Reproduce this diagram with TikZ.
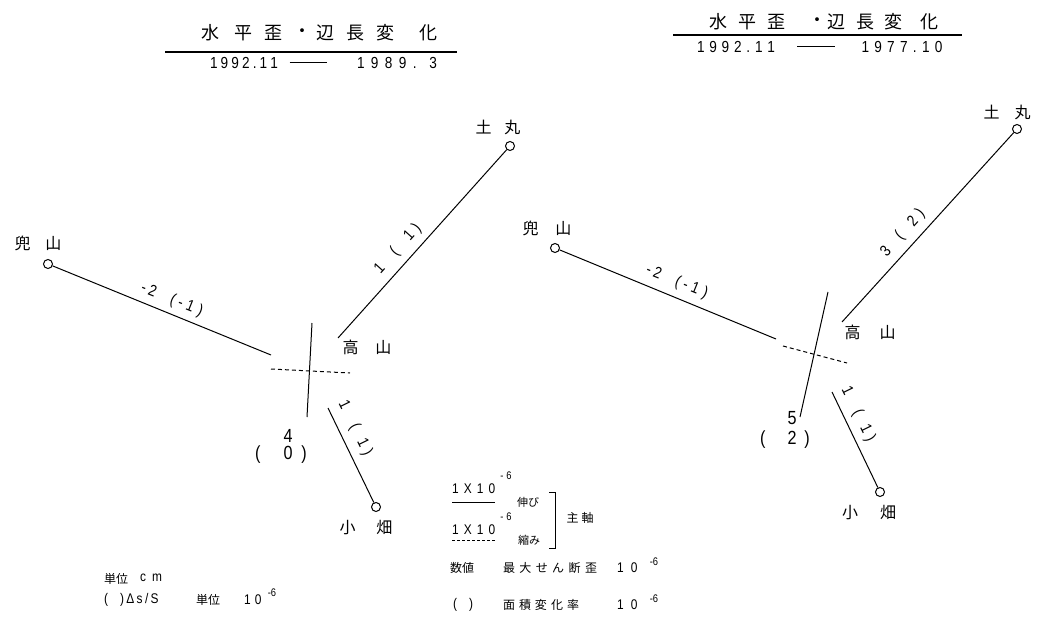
\documentclass[tikz,border=0pt]{standalone}
\usepackage{fontspec}
\setmainfont{Liberation Sans}
\newfontfamily\jp{Noto Sans CJK JP}
\newfontfamily\nm[FakeStretch=0.85]{Liberation Sans}
\newcommand{\spreadbox}[2]{\makebox[#1][s]{#2}}
\begin{document}
\begin{tikzpicture}[x=1pt,y=-1pt,
  ttl/.style={font=\jp\fontsize{18}{18}\selectfont, inner sep=0pt},
  stname/.style={font=\jp\fontsize{16}{16}\selectfont, inner sep=0pt},
  datef/.style={font=\nm\fontsize{16}{16}\selectfont, inner sep=0pt},
  lbl/.style={font=\nm\fontsize{16}{16}\selectfont, inner sep=0pt},
  big/.style={font=\nm\fontsize{19}{19}\selectfont, inner sep=0pt},
  leg/.style={font=\jp\fontsize{12}{12}\selectfont, inner sep=0pt},
  legn/.style={font=\nm\fontsize{14}{14}\selectfont, inner sep=0pt},
  sup/.style={font=\nm\fontsize{11}{11}\selectfont, inner sep=0pt},
  stn/.style={circle, draw, line width=1pt, minimum size=9pt, inner sep=0pt, fill=white},
  ln/.style={line width=1pt},
  rulel/.style={line width=1.2pt},
  dsh/.style={line width=1pt, dash pattern=on 4pt off 3pt}]
\path[use as bounding box, fill=white] (0,0) rectangle (1041,628);

% ---------- titles ----------
\foreach \x/\c [count=\i] in {210/水,243/平,273/歪,302/・,325/辺,355/長,385/変,428/化}
  \node[ttl] (tl\i) at (\x,33) {\c};
\foreach \x/\c [count=\i] in {718/水,747/平,776/歪,817/・,836/辺,865/長,893/変,929/化}
  \node[ttl] (tr\i) at (\x,22) {\c};
\coordinate (tlA) at (165,52); \coordinate (tlB) at (457,52);
\coordinate (trA) at (673,35); \coordinate (trB) at (962,35);
\draw[rulel] (tlA) -- (tlB);
\draw[rulel] (trA) -- (trB);
\node[datef] (dl1) at (244,63) {\spreadbox{68pt}{1\hfill9\hfill9\hfill2\hfill.\hfill1\hfill1}};
\node[inner sep=0pt] (dl2) at (308,62) {\rule{37pt}{0.9pt}};
\node[datef] (dl3) at (397,63) {\spreadbox{80pt}{1\hfill9\hfill8\hfill9\hfill.\hfill\hfill3}};
\node[datef] (dr1) at (736,47) {\spreadbox{78pt}{1\hfill9\hfill9\hfill2\hfill.\hfill1\hfill1}};
\node[inner sep=0pt] (dr2) at (816,46) {\rule{38pt}{0.9pt}};
\node[datef] (dr3) at (902,47) {\spreadbox{81pt}{1\hfill9\hfill7\hfill7\hfill.\hfill1\hfill0}};

% ---------- left network ----------
\node[stn] (kabL) at (48,264) {};
\node[stname] (kabLt) at (38,243) {兜\hspace{15pt}山};
\node[stn] (tsuL) at (510,146) {};
\node[stname] (tsuLt) at (498,127) {土\hspace{13pt}丸};
\node[stname] (takLt) at (367,347) {高\hspace{17pt}山};
\node[stn] (obaL) at (376,507) {};
\node[stname] (obaLt) at (366,528) {小\hspace{21pt}畑};
\coordinate (kL) at (271,355);
\coordinate (tL) at (338,338);
\coordinate (oL) at (328,408);
\draw[ln] (kabL) -- (kL);
\draw[ln] (tsuL) -- (tL);
\draw[ln] (obaL) -- (oL);
\coordinate (axLa) at (312,323); \coordinate (axLb) at (307,417);
\coordinate (dsLa) at (271,369); \coordinate (dsLb) at (350,373);
\draw[ln] (axLa) -- (axLb);
\draw[dsh] (dsLa) -- (dsLb);
\node[lbl, rotate=-22] (lkL) at (172,300) {-\hspace{3pt}2\hspace{16pt}(\hspace{4pt}-\hspace{4pt}1\hspace{5pt})};
\node[lbl, rotate=48] (ltL) at (398,249) {1\hspace{16pt}(\hspace{16pt}1\hspace{5pt})};
\node[lbl, rotate=-64] (loL) at (355,428) {1\hspace{18pt}(\hspace{12pt}1\hspace{5pt})};
\node[big] (v4) at (288,436) {4};
\node[big] (v0) at (281,455) {(\hspace{23pt}0\hspace{9pt})};

% ---------- right network ----------
\node[stn] (kabR) at (555,248) {};
\node[stname] (kabRt) at (547,228) {兜\hspace{17pt}山};
\node[stn] (tsuR) at (1017,129) {};
\node[stname] (tsuRt) at (1007,112) {土\hspace{15pt}丸};
\node[stname] (takRt) at (870,332) {高\hspace{19pt}山};
\node[stn] (obaR) at (880,492) {};
\node[stname] (obaRt) at (869,513) {小\hspace{22pt}畑};
\coordinate (kR) at (776,339);
\coordinate (tR) at (842,322);
\coordinate (oR) at (832,392);
\draw[ln] (kabR) -- (kR);
\draw[ln] (tsuR) -- (tR);
\draw[ln] (obaR) -- (oR);
\coordinate (axRa) at (828,292); \coordinate (axRb) at (800,417);
\coordinate (dsRa) at (783,346); \coordinate (dsRb) at (847,363);
\draw[ln] (axRa) -- (axRb);
\draw[dsh] (dsRa) -- (dsRb);
\node[lbl, rotate=-22] (lkR) at (677,282) {-\hspace{3pt}2\hspace{16pt}(\hspace{4pt}-\hspace{4pt}1\hspace{5pt})};
\node[lbl, rotate=48] (ltR) at (903,233) {3\hspace{14pt}(\hspace{14pt}2\hspace{5pt})};
\node[lbl, rotate=-64] (loR) at (858,414) {1\hspace{18pt}(\hspace{12pt}1\hspace{5pt})};
\node[big] (v5) at (792,418) {5};
\node[big] (v2) at (785,440) {(\hspace{22pt}2\hspace{8pt})};

% ---------- legend bottom left ----------
\node[leg, anchor=west] (u1) at (104,579) {単位};
\node[legn, anchor=west] (u1b) at (140,578) {c\hspace{6pt}m};
\node[legn, anchor=west] (u2) at (104,600) {(\hspace{12pt})\,Δ\,s\,/\,S};
\node[leg] (u2b) at (208,600) {単位};
\node[legn, anchor=west] (u2c) at (244,600) {1\hspace{4pt}0};
\node[sup] (u2d) at (272,593) {-6};

% ---------- legend middle ----------
\node[legn, anchor=west] (e1) at (452,489) {\spreadbox{43pt}{1\hfill X\hfill 1\hfill 0}};
\node[sup] (e1s) at (506,476) {-\hspace{3pt}6};
\coordinate (e1a) at (452,502); \coordinate (e1b) at (495,502);
\draw[line width=0.9pt] (e1a) -- (e1b);
\node[font=\jp\fontsize{11}{11}\selectfont, inner sep=0pt] (e1t) at (528,502) {伸び};
\node[legn, anchor=west] (e2) at (452,530) {\spreadbox{43pt}{1\hfill X\hfill 1\hfill 0}};
\node[sup] (e2s) at (506,517) {-\hspace{3pt}6};
\coordinate (e2a) at (452,540); \coordinate (e2b) at (495,540);
\draw[line width=0.9pt, dash pattern=on 3pt off 2pt] (e2a) -- (e2b);
\node[font=\jp\fontsize{11}{11}\selectfont, inner sep=0pt] (e2t) at (529,540) {縮み};
\coordinate (br1) at (549,492); \coordinate (br2) at (555,492);
\coordinate (br3) at (555,548); \coordinate (br4) at (549,548);
\draw[line width=1pt] (br1) -- (br2) -- (br3) -- (br4);
\node[leg] (ax) at (580,518) {主\hspace{3pt}軸};
\node[leg] (m1) at (462,568) {数値};
\node[leg] (m2) at (550,568) {\spreadbox{94pt}{最\hfill 大\hfill せ\hfill ん\hfill 断\hfill 歪}};
\node[legn, anchor=west] (m3) at (617,568) {1\hspace{7pt}0};
\node[sup] (m3s) at (654,562) {-6};
\node[legn, anchor=west] (a1) at (453,605) {(\hspace{12pt})};
\node[leg] (a2) at (541,605) {\spreadbox{76pt}{面\hfill 積\hfill 変\hfill 化\hfill 率}};
\node[legn, anchor=west] (a3) at (617,605) {1\hspace{7pt}0};
\node[sup] (a3s) at (654,599) {-6};
\end{tikzpicture}
\end{document}
